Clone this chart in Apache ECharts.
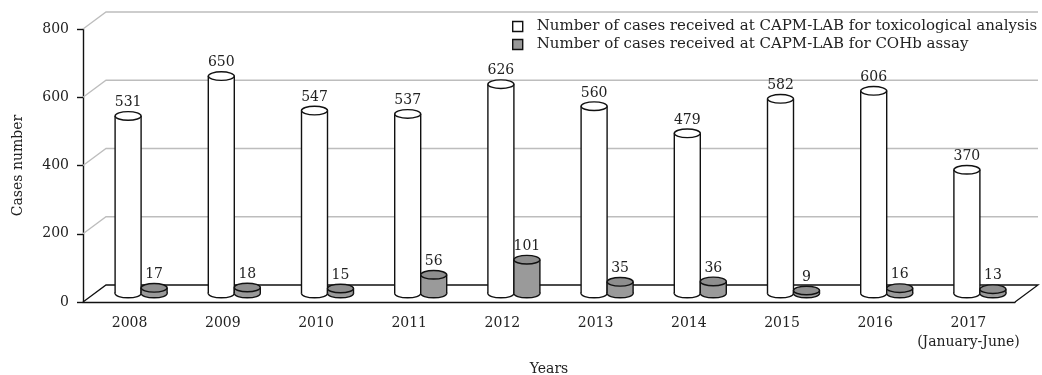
<!DOCTYPE html>
<html><head><meta charset="utf-8">
<script src="https://cdn.jsdelivr.net/npm/echarts@6/dist/echarts.min.js"></script>
<style>html,body{margin:0;padding:0;background:#fff}#c{width:1042px;height:375px}</style>
</head><body><div id="c"></div>
<script>
const categories = ['2008','2009','2010','2011','2012','2013','2014','2015','2016','2017\n(January-June)'];
const toxValues = [531,650,547,537,626,560,479,582,606,370];
const cohbValues = [17,18,15,56,101,35,36,9,16,13];
const yTicks = [0,200,400,600,800];
const seriesNames = [
  'Number of cases received at CAPM-LAB for toxicological analysis',
  'Number of cases received at CAPM-LAB for COHb assay'
];

const FONT = 'DejaVu Serif';
const TXT = '#222';
const DX = 23, DY = -17;
const RX = 13, RY = 4.3;
const DEPTH_SCALE = 0.98;

function cylinder(side, bodyFill, topFill) {
  return function (params, api) {
    const i = api.value(0), v = api.value(1);
    const p0 = api.coord([i, 0]);
    const p1 = api.coord([i, v]);
    const cx = p0[0] + DX / 2 + side * RX;
    const by = p0[1] + DY / 2;
    const ty = by - (p0[1] - p1[1]) * DEPTH_SCALE;
    const stroke = '#111', lw = 1.4;
    return {
      type: 'group',
      children: [
        {type: 'ellipse', shape: {cx: cx, cy: by, rx: RX, ry: RY}, style: {fill: bodyFill, stroke: stroke, lineWidth: lw}},
        {type: 'rect', shape: {x: cx - RX, y: ty, width: 2 * RX, height: by - ty}, style: {fill: bodyFill}},
        {type: 'line', shape: {x1: cx - RX, y1: ty, x2: cx - RX, y2: by}, style: {stroke: stroke, lineWidth: lw}},
        {type: 'line', shape: {x1: cx + RX, y1: ty, x2: cx + RX, y2: by}, style: {stroke: stroke, lineWidth: lw}},
        {type: 'ellipse', shape: {cx: cx, cy: ty, rx: RX, ry: RY}, style: {fill: topFill, stroke: stroke, lineWidth: lw}},
        {type: 'text', x: cx, y: ty - RY - 2, style: {text: String(v), fill: TXT, font: '14px "' + FONT + '"', align: 'center', verticalAlign: 'bottom'}}
      ]
    };
  };
}

function wall(params, api) {
  const v = api.value(1);
  const cs = params.coordSys;
  const y = api.coord([0, v])[1];
  const x0 = cs.x, x1 = cs.x + cs.width;
  const base = v === 0;
  const pts = base
    ? [[x0, y], [x0 + DX, y + DY], [x1 + DX, y + DY], [x1, y]]
    : [[x0, y], [x0 + DX, y + DY], [x1 + DX, y + DY]];
  return {type: 'polyline', shape: {points: pts},
    style: {stroke: base ? '#111' : '#bdbdbd', lineWidth: 1.3, fill: null}};
}

const chart = echarts.init(document.getElementById('c'));
chart.setOption({
  animation: false,
  backgroundColor: '#fff',
  textStyle: {fontFamily: FONT, color: TXT},
  grid: {left: 83, right: 27, top: 29, bottom: 73, outerBoundsMode: 'none', containLabel: false},
  legend: {
    orient: 'vertical', left: 512, top: 19, padding: 0, itemWidth: 10, itemHeight: 10, itemGap: 3,
    textStyle: {fontFamily: FONT, fontSize: 15, color: TXT, padding: [0, 0, 0, 9]},
    data: [
      {name: seriesNames[0], icon: 'rect', itemStyle: {color: '#fff', borderColor: '#111', borderWidth: 1.4}},
      {name: seriesNames[1], icon: 'rect', itemStyle: {color: '#999', borderColor: '#111', borderWidth: 1.4}}
    ]
  },
  xAxis: {
    type: 'category', data: categories,
    name: 'Years', nameLocation: 'middle', nameGap: 60,
    nameTextStyle: {fontFamily: FONT, fontSize: 14, color: TXT},
    axisLine: {lineStyle: {color: '#111', width: 1.4}},
    axisTick: {interval: 0, length: 7, lineStyle: {color: '#111', width: 1.4}},
    axisLabel: {interval: 0, margin: 12, fontFamily: FONT, fontSize: 14, color: TXT, lineHeight: 19}
  },
  yAxis: {
    type: 'value', min: 0, max: 800, interval: 200,
    name: 'Cases number', nameLocation: 'middle', nameGap: 58,
    nameTextStyle: {fontFamily: FONT, fontSize: 14, color: TXT},
    axisLine: {show: true, lineStyle: {color: '#111', width: 1.4}},
    axisTick: {show: true, length: 6, lineStyle: {color: '#111', width: 1.4}},
    axisLabel: {margin: 14, fontFamily: FONT, fontSize: 14, color: TXT},
    splitLine: {show: false}
  },
  series: [
    {type: 'custom', name: 'walls', z: 1, silent: true, renderItem: wall,
      data: yTicks.map(t => [0, t]), encode: {x: 0, y: 1}},
    {type: 'custom', name: seriesNames[0], z: 3, renderItem: cylinder(-1, '#fff', '#fff'),
      itemStyle: {color: '#fff'},
      data: toxValues.map((v, i) => [i, v]), encode: {x: 0, y: 1}},
    {type: 'custom', name: seriesNames[1], z: 3, renderItem: cylinder(1, '#9a9a9a', '#8e8e8e'),
      itemStyle: {color: '#999'},
      data: cohbValues.map((v, i) => [i, v]), encode: {x: 0, y: 1}}
  ]
});
</script></body></html>
